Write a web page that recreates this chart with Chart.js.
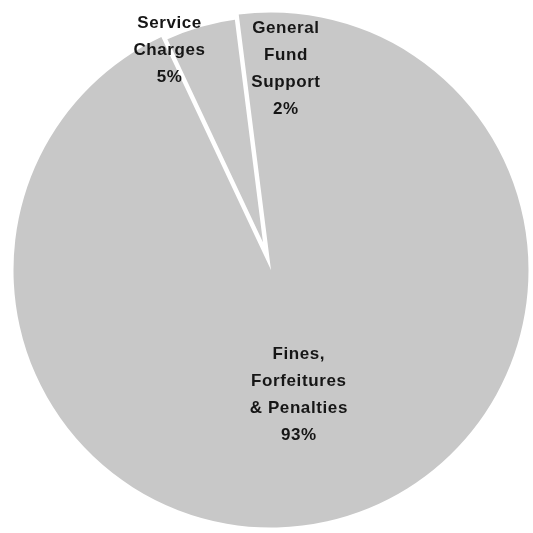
<!DOCTYPE html>
<html>
<head>
<meta charset="utf-8">
<script src="https://cdn.jsdelivr.net/npm/chart.js@4"></script>
<style>
  html, body { margin: 0; padding: 0; background: #fff; }
  #wrap { width: 533px; height: 533px; }
</style>
</head>
<body>
<div id="wrap"><canvas id="revenue"></canvas></div>
<script>
const labels = [
  ['Service', 'Charges'],
  ['General', 'Fund', 'Support'],
  ['Fines,', 'Forfeitures', '& Penalties']
];
const shares = [5, 2, 93];

// where each label sits, relative to the pie centre, in units of radius
const labelSpots = [
  { dx: -0.394, dy: -0.853 },
  { dx: 0.058, dy: -0.78 },
  { dx: 0.108, dy: 0.483 }
];

const sliceLabels = {
  id: 'sliceLabels',
  afterDatasetsDraw(chart) {
    const ctx = chart.ctx;
    const meta = chart.getDatasetMeta(0);
    ctx.save();
    ctx.font = 'bold 17px "Liberation Sans", Arial, sans-serif';
    ctx.letterSpacing = '0.6px';
    ctx.fillStyle = '#161616';
    ctx.textAlign = 'center';
    ctx.textBaseline = 'middle';
    meta.data.forEach((arc, i) => {
      const r = arc.outerRadius;
      const lines = labels[i].concat([shares[i] + '%']);
      const lh = 27;
      const cx = arc.x + labelSpots[i].dx * r;
      const cy = arc.y + labelSpots[i].dy * r;
      const top = cy - (lines.length - 1) * lh / 2;
      lines.forEach((t, k) => ctx.fillText(t, cx, top + k * lh));
    });
    ctx.restore();
  }
};

let canvas = document.getElementById('revenue');
let myChart = new Chart(canvas, {
  type: 'pie',
  data: {
    labels: labels.map(l => l.join(' ')),
    datasets: [{
      data: shares,
      backgroundColor: '#c8c8c8',
      borderColor: '#ffffff',
      // only the small wedge gets the white edges; neighbours cover half of it
      borderWidth: [9, 0, 0],
      hoverOffset: 0
    }]
  },
  options: {
    responsive: true,
    maintainAspectRatio: false,
    animation: false,
    rotation: -25.2,
    // the border width is taken off the radius, so the area runs a bit past the canvas
    layout: { padding: { left: 9, right: -3, top: 7, bottom: -2 } },
    plugins: {
      legend: { display: false },
      tooltip: { enabled: false }
    }
  },
  plugins: [sliceLabels]
});
</script>
</body>
</html>
